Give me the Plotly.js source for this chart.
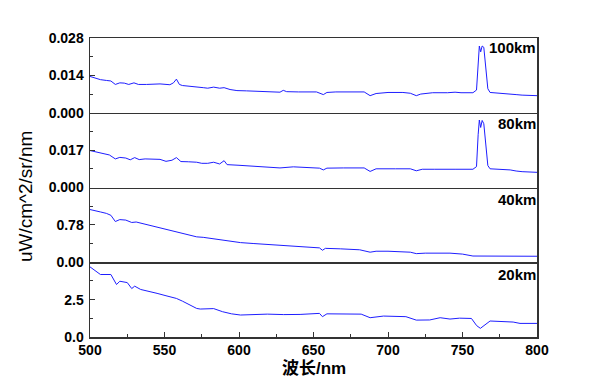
<!DOCTYPE html>
<html>
<head>
<meta charset="utf-8">
<script src="https://cdn.plot.ly/plotly-3.0.1.min.js"></script>
<style>html,body{margin:0;padding:0;background:#fff;}#chart{width:600px;height:378px;}</style>
</head>
<body>
<div id="chart"></div>
<script>
// ---- Data (wavelength in nm, radiance in uW/cm^2/sr/nm) ----
const wl100 = [500,504,507,511,514,517,520,523,526,529.5,532.5,538,543,547,553.6,556,558,560,562,567,571.6,576,579,583,587,590,594,598.6,605,612,620,627.5,629.7,632,640,652,656.6,659,665,675,684,688,692,700,710,715,719,722,730,740,745,749,757,759.4,760.5,761.3,762.2,763.2,764.3,765.5,767,768.5,775,782,786,790,795,800];
const v100  = [0.0136,0.0130,0.0124,0.0121,0.0119,0.0106,0.0112,0.0111,0.0106,0.0112,0.0106,0.0106,0.0107,0.0108,0.0105,0.0112,0.0126,0.0106,0.0102,0.0100,0.0096,0.0094,0.0092,0.0096,0.0092,0.0094,0.0087,0.0083,0.0082,0.0081,0.0079,0.0077,0.0084,0.0079,0.0078,0.0078,0.0068,0.0076,0.0078,0.0079,0.0078,0.0064,0.0072,0.0076,0.0076,0.0073,0.0064,0.0070,0.0075,0.0075,0.0077,0.0075,0.0075,0.0085,0.0200,0.0250,0.0228,0.0250,0.0245,0.0180,0.0090,0.0076,0.0074,0.0072,0.0068,0.0066,0.0065,0.0064];

const wl80 = [500,505,509,513,517,520,524,527,530,533,537,547,551,555,558,561,566,571.6,575,579,583,587,590,592,600,609.6,618,627.5,636.5,644,654,656.6,659,670,684,688,692,705,715,719,723,731,740,745,757,759.4,760.5,761.3,762.2,763.2,764.3,765.5,767,768.5,775,782,786,790,800];
const v80  = [0.0168,0.0160,0.0152,0.0148,0.0130,0.0137,0.0134,0.0126,0.0136,0.0127,0.0130,0.0128,0.0119,0.0124,0.0136,0.0118,0.0117,0.0115,0.0110,0.0110,0.0115,0.0107,0.0122,0.0104,0.0101,0.0098,0.0094,0.0089,0.0094,0.0092,0.0088,0.0080,0.0088,0.0089,0.0089,0.0073,0.0085,0.0085,0.0085,0.0076,0.0083,0.0083,0.0085,0.0083,0.0083,0.0095,0.0240,0.0307,0.0273,0.0305,0.0290,0.0210,0.0100,0.0085,0.0083,0.0080,0.0075,0.0072,0.0069];

const wl40 = [500,504,507,511,514,517,520,524,528,531,536,541,546,551,556,561,566,571.6,576,581,587,590,595,601,610,619,630,641,650,654,656,658,668,681,688,692,700,708,715,719,725,741.6,750,757,770,785,800];
const v40  = [1.10,1.08,1.05,1.02,0.98,0.85,0.89,0.88,0.83,0.84,0.80,0.77,0.73,0.69,0.65,0.61,0.57,0.53,0.52,0.50,0.47,0.45,0.43,0.41,0.39,0.37,0.34,0.32,0.31,0.30,0.25,0.29,0.28,0.26,0.21,0.23,0.23,0.22,0.21,0.18,0.19,0.19,0.17,0.13,0.13,0.13,0.125];

const wl20 = [500,503,507,514,517.8,520,525,528,530,534,540,545,551,558,562,566,571.6,574,583,589,595,601,610,619,630,641,654,656,659,670,682,688,697,712,719,728,735,741.6,748,756,759.5,762,765,768.5,784,788.6,800];
const v20  = [4.69,4.45,4.18,4.18,3.51,3.73,3.64,3.24,3.40,3.18,3.05,2.92,2.76,2.58,2.40,2.20,1.91,1.87,1.90,1.69,1.55,1.47,1.50,1.53,1.50,1.51,1.58,1.36,1.55,1.55,1.53,1.29,1.40,1.36,1.13,1.14,1.29,1.20,1.26,1.24,0.76,0.58,0.80,1.07,1.00,0.91,0.91];

const panelLabels = ['20km','40km','80km','100km'];
const xTickVals = [500,550,600,650,700,750,800];
const yTicks = [[0,2.5],[0,0.78],[0,0.017],[0,0.014,0.028]];
const yTickText = [['0.0','2.5'],['0.00','0.78'],['0.000','0.017'],['0.000','0.014','0.028']];
const yRanges = [[0,5],[0,1.56],[0,0.034],[0,0.028]];
const yMinor = [[1.25,3.75],[0.39,1.17],[0.0085,0.0255],[0.007,0.021]];

// ---- Traces ----
const series = [[wl20,v20],[wl40,v40],[wl80,v80],[wl100,v100]];
const lineColor = 'rgb(30,30,255)';
const traces = series.map((s,i)=>({
  type:'scatter', mode:'lines', x:s[0], y:s[1],
  xaxis: i===0 ? 'x' : 'x'+(i+1),
  yaxis: i===0 ? 'y' : 'y'+(i+1),
  line:{color:lineColor, width:1}, hoverinfo:'skip'
}));

const tickFont = {family:'Liberation Sans, Arial, sans-serif', size:14, color:'#000', weight:'bold'};
const axisLine = '#333';

const layout = {
  width:600, height:378,
  margin:{l:90, r:63, t:38, b:41},
  paper_bgcolor:'#fff', plot_bgcolor:'#fff',
  showlegend:false,
  font:{family:'Liberation Sans, Arial, sans-serif', color:'#000'},
  annotations:[]
};

for (let i=0;i<4;i++){
  const xs = i===0 ? 'xaxis' : 'xaxis'+(i+1);
  const ys = i===0 ? 'yaxis' : 'yaxis'+(i+1);
  const yid = i===0 ? 'y' : 'y'+(i+1);
  layout[xs] = {
    domain:[0,1], range:[500,800], anchor:yid,
    showline:true, mirror: i===3, linecolor:axisLine, linewidth:1.5,
    showgrid:false, zeroline:false,
    ticks: i===0 ? 'inside' : '', ticklen:5, tickcolor:axisLine,
    tickmode:'array', tickvals:xTickVals,
    showticklabels: i===0, tickfont:tickFont
  };
  if (i===0) layout[xs].minor = {ticks:'inside', dtick:25, tick0:500, ticklen:3, tickcolor:axisLine, showgrid:false};
  if (i>0) layout[xs].matches = 'x';
  layout[ys] = {
    domain:[i*0.25,(i+1)*0.25], range:yRanges[i], anchor: i===0 ? 'x' : 'x'+(i+1),
    showline:true, mirror:true, linecolor:axisLine, linewidth:1.5,
    showgrid:false, zeroline:false,
    ticks:'inside', ticklen:5, tickcolor:axisLine,
    tickmode:'array', tickvals:yTicks[i], ticktext:yTickText[i],
    tickfont:tickFont, ticklabelstandoff:2,
    minor:{ticks:'inside', tickmode:'array', tickvals:yMinor[i], ticklen:3, tickcolor:axisLine, showgrid:false}
  };
}

// panel labels (top-right inside each panel)
const labelY = [0.2074,0.4615,0.7124,0.9666];
panelLabels.forEach((t,i)=>{
  layout.annotations.push({
    text:t, xref:'paper', yref:'paper', x:1.003, y:labelY[i],
    xanchor:'right', yanchor:'middle', showarrow:false,
    font:{family:'Liberation Sans, Arial, sans-serif', size:15, color:'#000', weight:'bold'}
  });
});
// y-axis title
layout.annotations.push({
  text:'uW/cm^2/sr/nm', xref:'paper', yref:'paper', x:-0.1454, y:0.468,
  xanchor:'center', yanchor:'middle', textangle:-90, showarrow:false,
  font:{family:'Liberation Sans, Arial, sans-serif', size:19, color:'#000'}
});
// x-axis title
layout.annotations.push({
  text:'波长/nm', xref:'paper', yref:'paper', x:0.501, y:-0.1037,
  xanchor:'center', yanchor:'middle', showarrow:false,
  font:{family:'Liberation Sans, Noto Sans CJK SC, sans-serif', size:17, color:'#000', weight:'bold'}
});

Plotly.newPlot('chart', traces, layout, {displayModeBar:false, staticPlot:true});
</script>
</body>
</html>
